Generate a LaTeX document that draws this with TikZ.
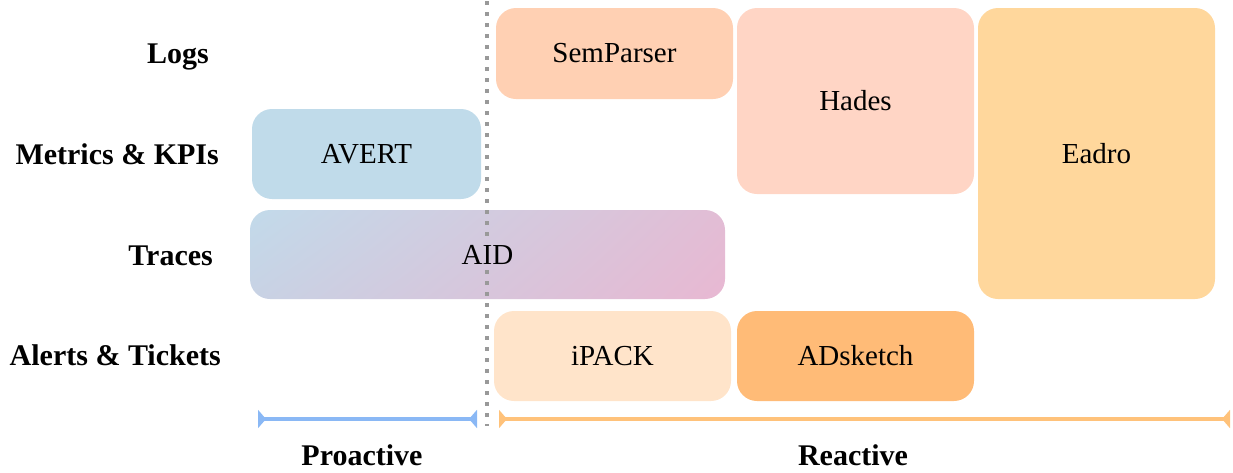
\documentclass[tikz,border=0pt]{standalone}
\usepackage{fontspec}
\setmainfont{Liberation Serif}
\usetikzlibrary{arrows.meta,shadings}
\definecolor{cSem}{HTML}{FFD0B3}
\definecolor{cHades}{HTML}{FFD5C5}
\definecolor{cEadro}{HTML}{FFD79C}
\definecolor{cAvert}{HTML}{C0DBEA}
\definecolor{cAidA}{HTML}{C2DAEA}
\definecolor{cAidB}{HTML}{E8B8D2}
\definecolor{cAidUR}{HTML}{E2BDD5}
\definecolor{cAidLL}{HTML}{C8D2E4}
\definecolor{cIpack}{HTML}{FFE4CA}
\definecolor{cAds}{HTML}{FFBB77}
\definecolor{cBlue}{HTML}{8AB8F5}
\definecolor{cOrange}{HTML}{FFC27A}
\definecolor{cDots}{HTML}{999999}
\tikzset{
  box/.style={rounded corners=20pt, inner sep=0pt, font=\fontsize{29}{33}\selectfont},
  rowlabel/.style={anchor=base east, inner sep=0pt, font=\fontsize{30}{34}\selectfont\bfseries},
  phaselabel/.style={anchor=base, inner sep=0pt, font=\fontsize{30}{34}\selectfont\bfseries},
  bracket/.style={line width=3.5pt, {Triangle[reversed,length=8pt,width=18pt]}-{Triangle[reversed,length=8pt,width=18pt]}},
  divider/.style={draw=cDots, line width=3.5pt, dash pattern=on 3.5pt off 7.5pt}
}
\begin{document}
\begin{tikzpicture}[x=1pt,y=-1pt]
\useasboundingbox (0,0) rectangle (1233,472);
% row labels
\node[rowlabel] (lLogs) at (209,63) {Logs};
\node[rowlabel] (lMet) at (219,164) {Metrics \& KPIs};
\node[rowlabel] (lTr) at (213,265) {Traces};
\node[rowlabel] (lAl) at (221,365) {Alerts \& Tickets};
% boxes
\node[box, fill=cSem, minimum width=237pt, minimum height=91pt] (sem) at (614.5,53.5) {SemParser};
\node[box, fill=cHades, minimum width=237pt, minimum height=186pt] (hades) at (855.5,101) {Hades};
\node[box, fill=cEadro, minimum width=237pt, minimum height=291pt] (eadro) at (1096.5,153.5) {Eadro};
\node[box, fill=cAvert, minimum width=229pt, minimum height=90pt] (avert) at (366.5,154) {AVERT};
\node[box, upper left=cAidA, lower right=cAidB, upper right=cAidUR, lower left=cAidLL, minimum width=475pt, minimum height=89pt] (aid) at (487.5,254.5) {AID};
\node[box, fill=cIpack, minimum width=237pt, minimum height=90pt] (ipack) at (612.5,356) {iPACK};
\node[box, fill=cAds, minimum width=237pt, minimum height=90pt] (ads) at (855.5,356) {ADsketch};
% divider
\coordinate (dTop) at (487,1);
\coordinate (dMidA) at (487,242);
\coordinate (dMidB) at (487,270);
\coordinate (dBot) at (487,426);
\draw[divider] (dTop) -- (dMidA);
\draw[divider] (dMidB) -- (dBot);
% brackets
\coordinate (pL) at (258,419);
\coordinate (pR) at (477,419);
\coordinate (rL) at (499,419);
\coordinate (rR) at (1230,419);
\draw[bracket, draw=cBlue, fill=cBlue] (pL) -- (pR);
\draw[bracket, draw=cOrange, fill=cOrange] (rL) -- (rR);
\node[phaselabel] (pro) at (362,465) {Proactive};
\node[phaselabel] (rea) at (853,465) {Reactive};
\end{tikzpicture}
\end{document}
